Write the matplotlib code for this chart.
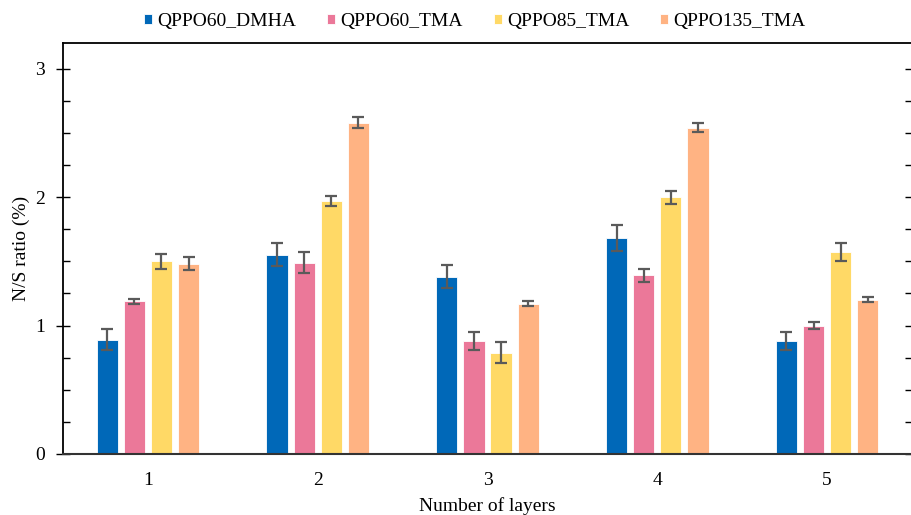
import matplotlib
matplotlib.use("Agg")
import matplotlib.pyplot as plt
import numpy as np
from matplotlib.ticker import MultipleLocator

plt.rcParams['font.family'] = ['Liberation Serif', 'DejaVu Serif']

categories = [1, 2, 3, 4, 5]
series_names = ["QPPO60_DMHA", "QPPO60_TMA", "QPPO85_TMA", "QPPO135_TMA"]
qppo60_dmha = [0.89, 1.55, 1.38, 1.68, 0.88]
qppo60_dmha_err = [0.08, 0.09, 0.09, 0.10, 0.07]
qppo60_tma = [1.19, 1.49, 0.88, 1.39, 1.00]
qppo60_tma_err = [0.02, 0.08, 0.07, 0.05, 0.03]
qppo85_tma = [1.50, 1.97, 0.79, 2.00, 1.57]
qppo85_tma_err = [0.06, 0.04, 0.08, 0.05, 0.07]
qppo135_tma = [1.48, 2.58, 1.17, 2.54, 1.20]
qppo135_tma_err = [0.05, 0.04, 0.02, 0.035, 0.02]

values = [qppo60_dmha, qppo60_tma, qppo85_tma, qppo135_tma]
errors = [qppo60_dmha_err, qppo60_tma_err, qppo85_tma_err, qppo135_tma_err]
colors = ["#0068B8", "#EB7899", "#FFD966", "#FFB383"]

fig = plt.figure(figsize=(9.11, 5.15), dpi=100)
ax = fig.add_axes([63/911, 1-454/515, (912-63)/911, (454-43)/515])

x = np.array(categories, dtype=float)
width = 0.125
offsets = [-0.24, -0.08, 0.08, 0.24]
for vals, errs, col, name, off in zip(values, errors, colors, series_names, offsets):
    ax.bar(x + off, vals, width, color=col, edgecolor="white", linewidth=0.6, label=name,
           yerr=errs, error_kw=dict(ecolor="#5a5a5a", elinewidth=1.6, capsize=4, capthick=1.6))

ax.set_xlim(0.5, 5.5)
ax.set_ylim(0, 3.2)
ax.set_xticks(categories)
ax.set_xticklabels([str(c) for c in categories])
ax.set_yticks([0, 1, 2, 3])
ax.yaxis.set_minor_locator(MultipleLocator(0.25))
ax.tick_params(axis='x', length=0, labelsize=14, pad=13)
ax.tick_params(axis='y', which='major', direction='inout', length=10, width=1, labelsize=14,
               right=True, labelright=False, pad=8)
ax.tick_params(axis='y', which='minor', direction='in', length=5, width=1, right=True)

for s in ['top', 'left', 'right']:
    ax.spines[s].set_linewidth(1.3)
    ax.spines[s].set_color('black')
ax.spines['bottom'].set_linewidth(1.5)
ax.spines['bottom'].set_color('#333333')

ax.set_ylabel("N/S ratio (%)", fontsize=14, labelpad=4)
ax.set_xlabel("Number of layers", fontsize=14, labelpad=6)

ax.legend(loc='upper center', bbox_to_anchor=(0.485, 1.115), ncol=4, frameon=False,
          fontsize=14, handlelength=0.42, handleheight=0.42, handletextpad=0.25, columnspacing=1.6)

fig.savefig("out.png", dpi=100)
